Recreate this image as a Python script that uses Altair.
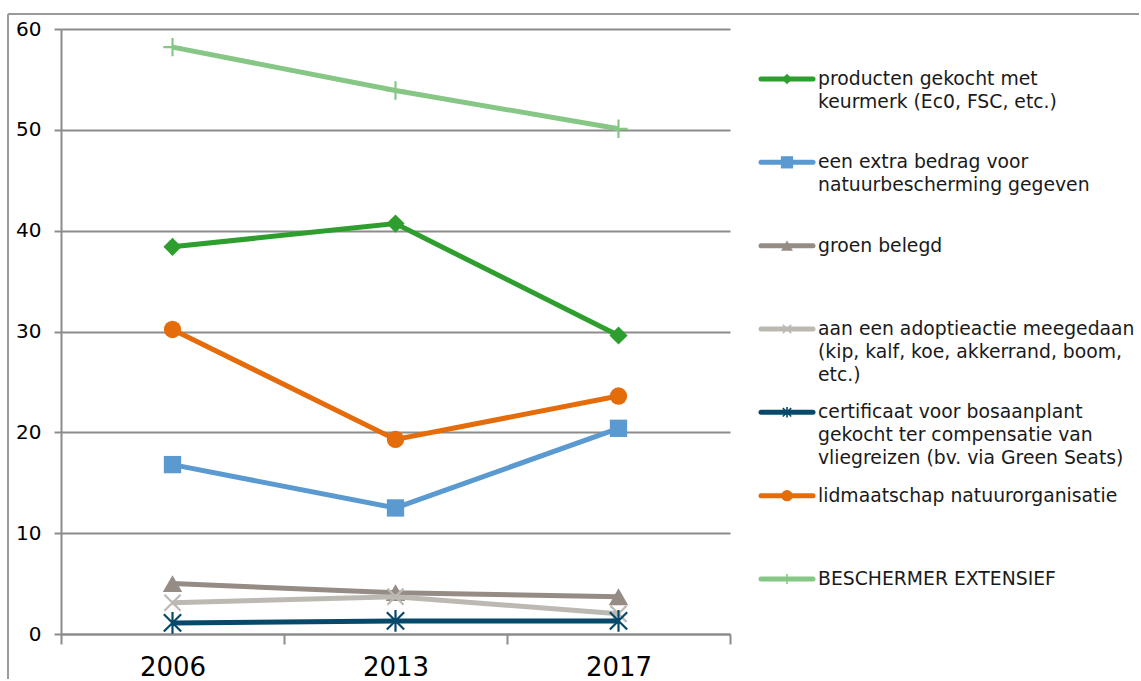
import altair as alt
import pandas as pd

FONT = "DejaVu Sans"
AXIS_GREY = "#8c8c8c"
FRAME_GREY = "#9a9a9a"

# Survey years on the x axis
years = ["2006", "2013", "2017"]

# Series names (legend text, line breaks where the legend wraps)
labels = [
    "producten gekocht met\nkeurmerk (Ec0, FSC, etc.)",
    "een extra bedrag voor\nnatuurbescherming gegeven",
    "groen belegd",
    "aan een adoptieactie meegedaan\n(kip, kalf, koe, akkerrand, boom,\netc.)",
    "certificaat voor bosaanplant\ngekocht ter compensatie van\nvliegreizen (bv. via Green Seats)",
    "lidmaatschap natuurorganisatie",
    "BESCHERMER EXTENSIEF",
]

# Percentages per year
keurmerk = [38.4, 40.7, 29.6]
extra_bedrag = [16.8, 12.5, 20.4]
groen_belegd = [5.0, 4.1, 3.7]
adoptieactie = [3.1, 3.7, 2.0]
bosaanplant = [1.1, 1.3, 1.3]
lidmaatschap = [30.2, 19.3, 23.6]
extensief = [58.2, 53.9, 50.1]

values = [keurmerk, extra_bedrag, groen_belegd, adoptieactie,
          bosaanplant, lidmaatschap, extensief]

# Styling per series: colour, marker shape, filled marker or outline only,
# marker area in the plot and in the legend
colors = ["#2e9f2e", "#5b9ad0", "#968c86", "#bcb9b2", "#07496b", "#e46c0a", "#86c786"]
X_PATH = "M-1,-1L1,1M-1,1L1,-1"
STAR_PATH = "M-1,-1L1,1M-1,1L1,-1M0,-1.25L0,1.25"
PLUS_PATH = "M-1,0L1,0M0,-1L0,1"
shapes = ["diamond", "square", "triangle-up", X_PATH, STAR_PATH, "circle", PLUS_PATH]
filled = [True, True, True, False, False, True, False]
plot_sizes = [330, 300, 380, 260, 300, 300, 340]
legend_sizes = [110, 150, 140, 70, 70, 130, 100]

keys = [lab.replace("\n", " ") for lab in labels]

rows = []
for key, vals in zip(keys, values):
    for yr, v in zip(years, vals):
        rows.append({"reeks": key, "jaar": yr, "waarde": v})
df = pd.DataFrame(rows)

legend_df = pd.DataFrame({"reeks": keys, "label": labels, "idx": list(range(len(keys)))})

PLOT_W, PLOT_H = 669, 605

x_enc = alt.X(
    "jaar:N", sort=years,
    scale=alt.Scale(paddingInner=0, paddingOuter=0),
    axis=alt.Axis(title=None, labelAngle=0, labelFont=FONT, labelFontSize=26,
                  labelColor="black", tickBand="extent", tickSize=10,
                  tickColor=AXIS_GREY, tickWidth=2, domainColor=AXIS_GREY,
                  domainWidth=2, labelPadding=10, grid=False),
)
y_enc = alt.Y(
    "waarde:Q",
    scale=alt.Scale(domain=[0, 60], nice=False),
    axis=alt.Axis(title=None, values=[0, 10, 20, 30, 40, 50, 60], tickSize=7,
                  tickColor=AXIS_GREY, tickWidth=2, domainColor=AXIS_GREY,
                  domainWidth=2, labelFont=FONT, labelFontSize=20,
                  labelColor="black", labelPadding=13, gridColor=AXIS_GREY,
                  gridWidth=2),
)

base = alt.Chart(df)

layers = []
for key, col, shp, fil, sz in zip(keys, colors, shapes, filled, plot_sizes):
    part = base.transform_filter(alt.datum.reeks == key)
    layers.append(part.mark_line(strokeWidth=5, color=col).encode(x=x_enc, y=y_enc))
    if fil:
        pt = part.mark_point(shape=shp, filled=True, color=col, size=sz, opacity=1)
    else:
        pt = part.mark_point(shape=shp, filled=False, color=col, size=sz,
                             strokeWidth=2.2, opacity=1)
    layers.append(pt.encode(x=x_enc, y=y_enc))

# Outer frame of the figure (top and left edges)
frame_src = alt.Chart(pd.DataFrame({"f": [0]}))
frame_top = frame_src.mark_rule(color=FRAME_GREY, strokeWidth=2).encode(
    x=alt.value(-53), x2=alt.value(1078), y=alt.value(-15))
frame_left = frame_src.mark_rule(color=FRAME_GREY, strokeWidth=2).encode(
    x=alt.value(-53), y=alt.value(-15), y2=alt.value(650))

plot = alt.layer(*layers, frame_top, frame_left).properties(width=PLOT_W, height=PLOT_H)

# Legend panel: one row per series, symbol line + marker + wrapped label
y_leg = alt.Y("idx:Q", scale=alt.Scale(domain=[-0.6, 6.66], reverse=True, nice=False,
                                       zero=False), axis=None)
color_leg = alt.Color("reeks:N", scale=alt.Scale(domain=keys, range=colors), legend=None)
leg_base = alt.Chart(legend_df)

leg_lines = leg_base.mark_rule(strokeWidth=5, strokeCap="round").encode(
    x=alt.value(2), x2=alt.value(54), y=y_leg, color=color_leg)
leg_layers = [leg_lines]
for key, shp, fil, sz in zip(keys, shapes, filled, legend_sizes):
    part = leg_base.transform_filter(alt.datum.reeks == key)
    if fil:
        pt = part.mark_point(shape=shp, filled=True, size=sz, opacity=1)
    else:
        pt = part.mark_point(shape=shp, filled=False, size=sz, strokeWidth=1.6, opacity=1)
    leg_layers.append(pt.encode(x=alt.value(28), y=y_leg, color=color_leg))

leg_text = leg_base.mark_text(
    align="left", baseline="top", font=FONT, fontSize=18.8, lineHeight=23,
    lineBreak="\n", color="#1a1a1a", dy=-9,
).encode(x=alt.value(59), y=y_leg, text="label:N")
leg_layers.append(leg_text)

legend = alt.layer(*leg_layers).properties(width=370, height=PLOT_H)

chart = alt.hconcat(plot, legend, spacing=29, bounds="flush").properties(
    padding={"left": 7, "top": 13, "right": 0, "bottom": 0},
    background="white",
).configure_view(stroke=None)

chart.save("out.html", embed_options={"renderer": "svg", "actions": False})
